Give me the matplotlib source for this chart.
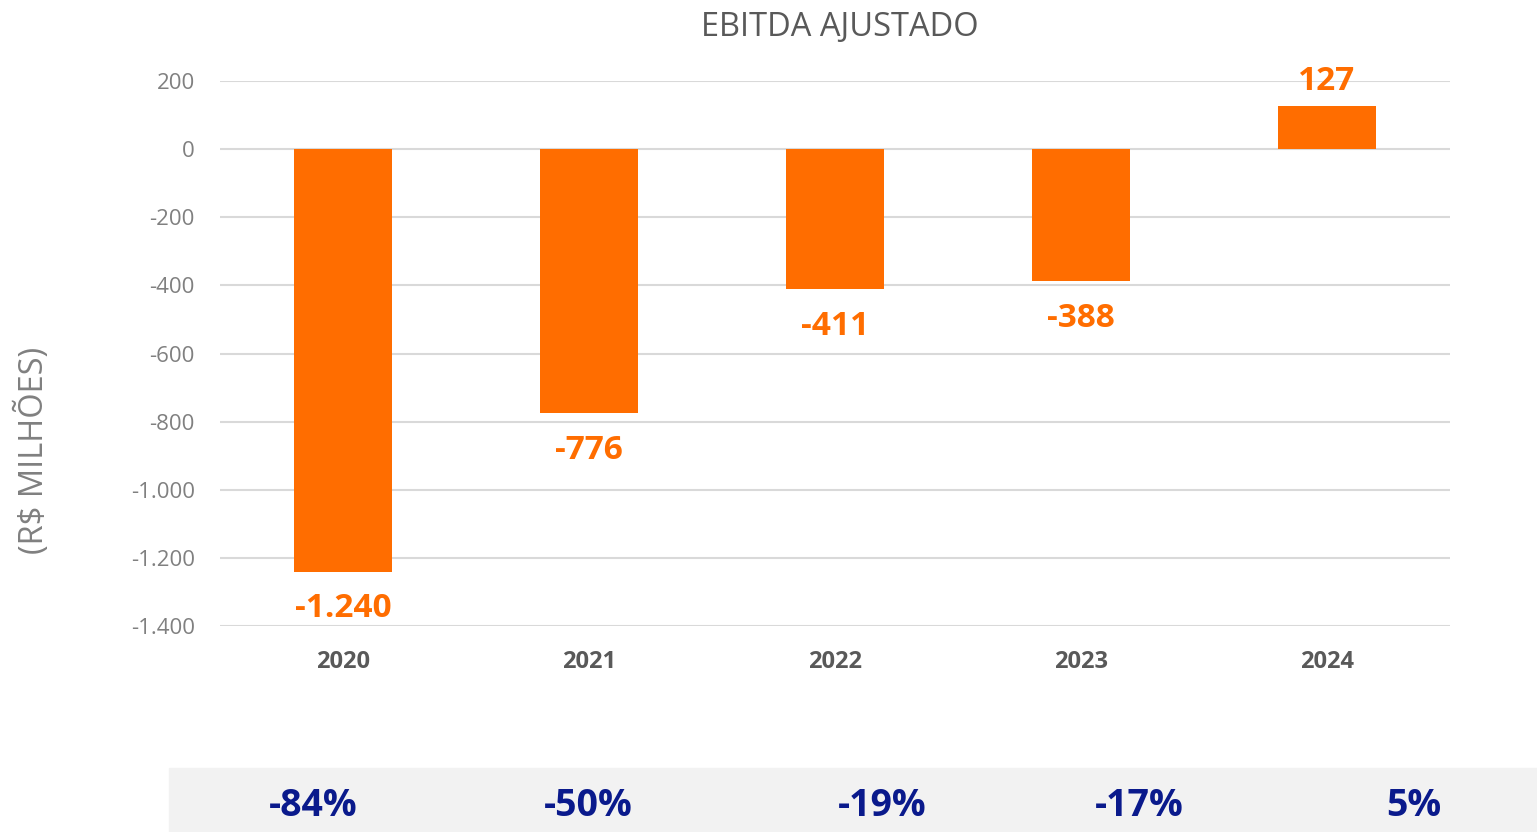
import matplotlib.pyplot as plt
from matplotlib.patches import Rectangle

# data
years = ["2020", "2021", "2022", "2023", "2024"]
ebitda = [-1240, -776, -411, -388, 127]
margin_pct = [-84, -50, -19, -17, 5]

ORANGE = "#FF6D00"
NAVY = "#0A1A8C"
GRAY = "#808080"

plt.rcParams['font.family'] = ['Open Sans', 'DejaVu Sans']

fig = plt.figure(figsize=(15.37, 8.32), dpi=100)
ax = fig.add_axes([0.1431, 0.2476, 0.8003, 0.655])

x = range(len(years))
ax.bar(x, ebitda, width=0.4, color=ORANGE, zorder=3)

ax.set_xlim(-0.5, len(years) - 0.5)
ax.set_ylim(-1400, 200)
ax.set_yticks(range(-1400, 201, 200))
ax.set_yticklabels([f"{v:,}".replace(",", ".") for v in range(-1400, 201, 200)],
                   fontsize=16, color=GRAY)
ax.set_xticks(list(x))
ax.set_xticklabels(years, fontsize=17, fontweight="bold", color="#595959")
ax.tick_params(axis="both", length=0)
ax.tick_params(axis="y", pad=18)
ax.tick_params(axis="x", pad=17)
ax.grid(axis="y", color="#D9D9D9", linewidth=1.5, zorder=0)
for s in ax.spines.values():
    s.set_visible(False)

# value labels
for i, v in enumerate(ebitda):
    txt = f"{v:,}".replace(",", ".")
    if v < 0:
        ax.annotate(txt, (i, v), xytext=(0, -15), textcoords="offset points",
                    ha="center", va="top", fontsize=24, fontweight="bold",
                    color=ORANGE)
    else:
        ax.annotate(txt, (i, v), xytext=(0, 6), textcoords="offset points",
                    ha="center", va="bottom", fontsize=24, fontweight="bold",
                    color=ORANGE)

fig.text(840 / 1537, 1 - 28 / 832, "EBITDA AJUSTADO", ha="center", va="center",
         fontsize=23.5, color="#595959")
fig.text(33 / 1537, 1 - 450 / 832, "(R$ MILHÕES)", ha="center", va="center",
         rotation=90, fontsize=23.5, color=GRAY)

# margin band at the bottom
fig.patches.append(Rectangle((169 / 1537, 0), 1 - 169 / 1537, 64 / 832,
                             transform=fig.transFigure, color="#F2F2F2",
                             zorder=0))
pct_x = [313, 588, 882, 1139, 1414]
for px, p in zip(pct_x, margin_pct):
    fig.text(px / 1537, 1 - 806 / 832, f"{p}%", ha="center", va="center",
             fontsize=27, fontweight="bold", color=NAVY)

fig.savefig("out.png", dpi=100)
